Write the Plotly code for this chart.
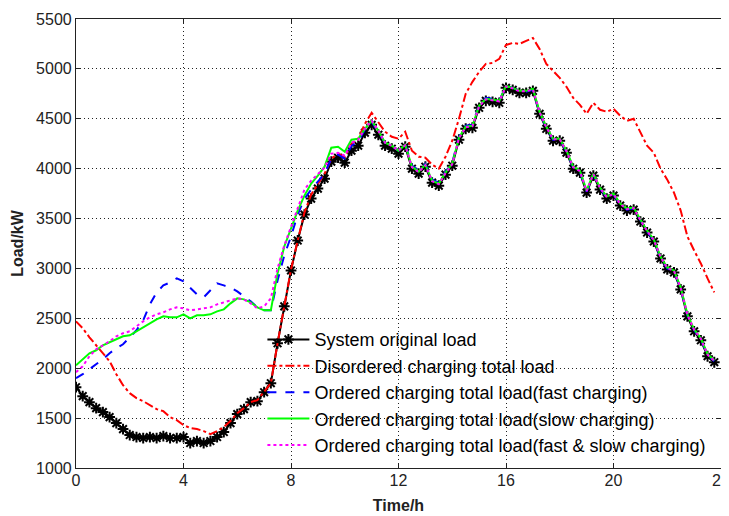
import plotly.graph_objects as go

hours = [
    0.0, 0.25, 0.5, 0.75, 1.0, 1.25, 1.5, 1.75, 2.0, 2.25, 2.5, 2.75,
    3.0, 3.25, 3.5, 3.75, 4.0, 4.25, 4.5, 4.75, 5.0, 5.25, 5.5, 5.75,
    6.0, 6.25, 6.5, 6.75, 7.0, 7.25, 7.5, 7.75, 8.0, 8.25, 8.5, 8.75,
    9.0, 9.25, 9.5, 9.75, 10.0, 10.25, 10.5, 10.75, 11.0, 11.25, 11.5, 11.75,
    12.0, 12.25, 12.5, 12.75, 13.0, 13.25, 13.5, 13.75, 14.0, 14.25, 14.5, 14.75,
    15.0, 15.25, 15.5, 15.75, 16.0, 16.25, 16.5, 16.75, 17.0, 17.25, 17.5, 17.75,
    18.0, 18.25, 18.5, 18.75, 19.0, 19.25, 19.5, 19.75, 20.0, 20.25, 20.5, 20.75,
    21.0, 21.25, 21.5, 21.75, 22.0, 22.25, 22.5, 22.75, 23.0, 23.25, 23.5, 23.75,
]

original_load = [
    1810, 1720, 1660, 1600, 1560, 1510, 1450, 1390, 1330, 1310, 1300, 1310,
    1300, 1320, 1300, 1300, 1310, 1250, 1270, 1250, 1270, 1310, 1360, 1450,
    1540, 1590, 1660, 1670, 1760, 1850, 2250, 2620, 2980, 3280, 3540, 3700,
    3800, 3900, 4070, 4110, 4060, 4180, 4230, 4360, 4440, 4340, 4230, 4200,
    4150, 4220, 4000, 3950, 4020, 3860, 3830, 3940, 4030, 4290, 4400, 4410,
    4610, 4680, 4670, 4660, 4810, 4790, 4760, 4760, 4780, 4550, 4400, 4280,
    4280, 4160, 4000, 3960, 3760, 3930, 3790, 3700, 3730, 3630, 3580, 3590,
    3470, 3360, 3270, 3100, 2990, 2960, 2790, 2520, 2370, 2280, 2120, 2060,
]

disordered_load = [
    2470, 2400, 2310, 2230, 2140, 2070, 1940, 1830, 1750, 1700, 1670, 1630,
    1590, 1570, 1510, 1480, 1430, 1400, 1390, 1370, 1340, 1370, 1410, 1470,
    1550, 1600, 1660, 1680, 1760, 1850, 2250, 2630, 2990, 3280, 3560, 3740,
    3850, 3950, 4100, 4150, 4120, 4250, 4300, 4450, 4560, 4470, 4370, 4320,
    4300, 4370, 4180, 4120, 4110, 4040, 4000, 4120, 4280, 4500, 4750, 4870,
    4970, 5050, 5060, 5100, 5240, 5260, 5250, 5280, 5310, 5200, 5050, 4980,
    4910, 4820, 4710, 4640, 4550, 4660, 4590, 4570, 4600, 4530, 4480, 4500,
    4360, 4230, 4160, 4000, 3890, 3760, 3580, 3320, 3180, 3050, 2900, 2760,
]

fast_load = [
    1900, 1940, 1990, 2040, 2090, 2150, 2200, 2240, 2310, 2380, 2480, 2640,
    2760, 2830, 2860, 2900, 2870, 2800, 2740, 2710, 2780, 2850, 2830, 2810,
    2770, 2720, 2670, 2610, 2580, 2580, 2880, 3130, 3320, 3540, 3700, 3790,
    3870, 3950, 4100, 4140, 4100, 4230, 4270, 4390, 4470, 4370, 4260, 4230,
    4180, 4250, 4030, 3980, 4050, 3890, 3860, 3970, 4060, 4320, 4430, 4440,
    4640, 4710, 4700, 4680, 4830, 4810, 4780, 4770, 4790, 4560, 4410, 4290,
    4290, 4170, 4010, 3970, 3770, 3940, 3800, 3710, 3740, 3640, 3590, 3600,
    3480, 3370, 3280, 3110, 3000, 2970, 2800, 2530, 2380, 2290, 2130, 2070,
]

slow_load = [
    2030, 2090, 2150, 2180, 2230, 2260, 2290, 2320, 2330, 2370, 2410, 2450,
    2490, 2520, 2510, 2510, 2540, 2500, 2530, 2530, 2540, 2570, 2590, 2650,
    2700, 2690, 2660, 2610, 2580, 2580, 2950, 3220, 3400, 3580, 3730, 3850,
    3930, 4020, 4210, 4220, 4170, 4290, 4300, 4400, 4480, 4380, 4260, 4230,
    4180, 4240, 4020, 3970, 4040, 3880, 3850, 3960, 4050, 4310, 4420, 4430,
    4630, 4700, 4690, 4680, 4830, 4810, 4780, 4780, 4800, 4570, 4420, 4300,
    4300, 4180, 4020, 3980, 3780, 3950, 3810, 3720, 3750, 3650, 3600, 3610,
    3490, 3380, 3290, 3120, 3010, 2980, 2810, 2540, 2390, 2300, 2140, 2080,
]

fast_slow_load = [
    1960, 2020, 2120, 2190, 2230, 2270, 2320, 2350, 2370, 2420, 2470, 2510,
    2540, 2560, 2590, 2610, 2600, 2580, 2590, 2600, 2610, 2640, 2660, 2680,
    2700, 2690, 2650, 2600, 2620, 2700, 3000, 3230, 3420, 3600, 3790, 3880,
    3940, 4010, 4150, 4160, 4130, 4260, 4290, 4400, 4480, 4380, 4260, 4230,
    4180, 4235, 4015, 3965, 4035, 3875, 3845, 3955, 4045, 4305, 4415, 4425,
    4625, 4695, 4685, 4675, 4825, 4805, 4775, 4775, 4795, 4565, 4415, 4295,
    4295, 4175, 4015, 3975, 3775, 3945, 3805, 3715, 3745, 3645, 3595, 3605,
    3485, 3375, 3285, 3115, 3005, 2975, 2805, 2535, 2385, 2295, 2135, 2075,
]

names = [
    "System original load",
    "Disordered charging total load",
    "Ordered charging total load(fast charging)",
    "Ordered charging total load(slow charging)",
    "Ordered charging total load(fast & slow charging)",
]

x_ticks = [0, 4, 8, 12, 16, 20, 24]
y_ticks = [1000, 1500, 2000, 2500, 3000, 3500, 4000, 4500, 5000, 5500]

for s in (original_load, disordered_load, fast_load, slow_load, fast_slow_load):
    assert len(s) == len(hours)

fig = go.Figure()
fig.add_trace(go.Scatter(
    x=hours, y=original_load, name=names[0], mode="lines+markers",
    line=dict(color="black", width=2),
    marker=dict(symbol="asterisk-open", size=9, color="black",
                line=dict(color="black", width=2)),
))
fig.add_trace(go.Scatter(
    x=hours, y=disordered_load, name=names[1], mode="lines",
    line=dict(color="#ff0000", width=2, dash="dashdot"),
))
fig.add_trace(go.Scatter(
    x=hours, y=fast_load, name=names[2], mode="lines",
    line=dict(color="#0000ff", width=2, dash="dash"),
))
fig.add_trace(go.Scatter(
    x=hours, y=slow_load, name=names[3], mode="lines",
    line=dict(color="#00ff00", width=2),
))
fig.add_trace(go.Scatter(
    x=hours, y=fast_slow_load, name=names[4], mode="lines",
    line=dict(color="#ff00ff", width=2, dash="dot"),
))

axis_common = dict(
    showline=True, linecolor="#222", linewidth=1.2, mirror="ticks",
    ticks="inside", ticklen=5, tickcolor="#222",
    showgrid=True, gridcolor="#222", griddash="1px,3px", gridwidth=1,
    zeroline=False, ticklabeloverflow="allow", automargin=False,
    tickfont=dict(family="Liberation Sans, Arial", size=16, color="#222"),
)

# The page body adds an 8px offset, so margins are shifted to compensate.
fig.update_layout(
    width=729, height=516,
    margin=dict(l=68, r=16, t=11, b=56, autoexpand=False),
    plot_bgcolor="white", paper_bgcolor="white",
    showlegend=True,
    legend=dict(
        x=0.289, y=0.327, xanchor="left", yanchor="top",
        bgcolor="rgba(0,0,0,0)", borderwidth=0,
        font=dict(family="Liberation Sans, Arial", size=18, color="black"),
        tracegroupgap=0, itemwidth=42,
    ),
    xaxis=dict(
        range=[0, 24], tickvals=x_ticks, ticklabelstandoff=-2,
        title=dict(text="<b>Time/h</b>", standoff=11,
                   font=dict(family="Liberation Sans, Arial", size=16, color="#222")),
        **axis_common,
    ),
    yaxis=dict(
        range=[1000, 5500], tickvals=y_ticks,
        title=dict(text="<b>Load/kW</b>", standoff=8,
                   font=dict(family="Liberation Sans, Arial", size=16, color="#222")),
        **axis_common,
    ),
)

fig.write_html("out.html")
